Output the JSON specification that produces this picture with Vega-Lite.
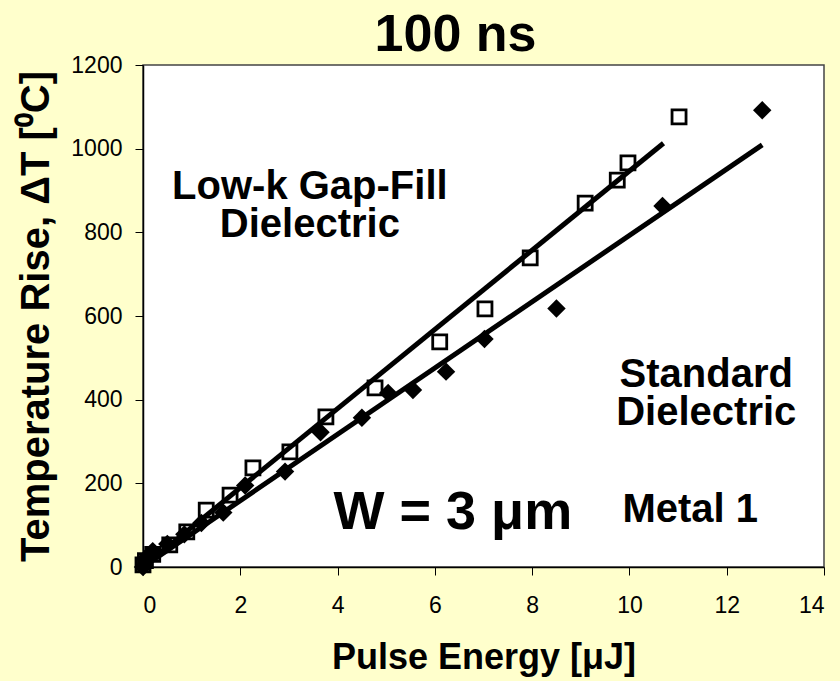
{
  "$schema": "https://vega.github.io/schema/vega-lite/v6.json",
  "width": 681,
  "height": 502,
  "autosize": {"type": "none"},
  "padding": {"left": 143, "top": 65, "right": 16, "bottom": 114},
  "background": "#FFFFCC",
  "config": {
    "view": {"fill": "white", "stroke": "#444444", "strokeWidth": 1.5},
    "font": "Liberation Sans"
  },
  "title": {
    "text": "100 ns",
    "fontSize": 52,
    "font": "Liberation Sans",
    "fontWeight": "bold",
    "color": "black",
    "anchor": "middle",
    "frame": "group",
    "dx": -28,
    "dy": 53,
    "offset": 4,
    "baseline": "alphabetic"
  },
  "datasets": {
    "points": [
      {"series": "Low-k", "energy": 0.0, "dT": 5},
      {"series": "Low-k", "energy": 0.05, "dT": 15},
      {"series": "Low-k", "energy": 0.2, "dT": 30},
      {"series": "Low-k", "energy": 0.55, "dT": 53},
      {"series": "Low-k", "energy": 0.9, "dT": 84},
      {"series": "Low-k", "energy": 1.3, "dT": 136},
      {"series": "Low-k", "energy": 1.79, "dT": 172},
      {"series": "Low-k", "energy": 2.26, "dT": 237},
      {"series": "Low-k", "energy": 3.02, "dT": 275},
      {"series": "Low-k", "energy": 3.76, "dT": 359},
      {"series": "Low-k", "energy": 4.77, "dT": 428},
      {"series": "Low-k", "energy": 6.1, "dT": 538},
      {"series": "Low-k", "energy": 7.03, "dT": 617},
      {"series": "Low-k", "energy": 7.96, "dT": 739},
      {"series": "Low-k", "energy": 9.09, "dT": 870},
      {"series": "Low-k", "energy": 9.75, "dT": 925},
      {"series": "Low-k", "energy": 9.97, "dT": 966},
      {"series": "Low-k", "energy": 11.02, "dT": 1076},
      {"series": "Standard", "energy": 0.0, "dT": 0},
      {"series": "Standard", "energy": 0.05, "dT": 20},
      {"series": "Standard", "energy": 0.2, "dT": 38},
      {"series": "Standard", "energy": 0.5, "dT": 55},
      {"series": "Standard", "energy": 0.85, "dT": 78},
      {"series": "Standard", "energy": 1.2, "dT": 105},
      {"series": "Standard", "energy": 1.65, "dT": 130},
      {"series": "Standard", "energy": 2.1, "dT": 195},
      {"series": "Standard", "energy": 2.92, "dT": 228},
      {"series": "Standard", "energy": 3.65, "dT": 322},
      {"series": "Standard", "energy": 4.5, "dT": 357},
      {"series": "Standard", "energy": 5.04, "dT": 416},
      {"series": "Standard", "energy": 5.55, "dT": 423},
      {"series": "Standard", "energy": 6.23, "dT": 467},
      {"series": "Standard", "energy": 7.02, "dT": 545},
      {"series": "Standard", "energy": 8.5, "dT": 618},
      {"series": "Standard", "energy": 10.68, "dT": 863},
      {"series": "Standard", "energy": 12.73, "dT": 1092}
    ],
    "fits": [
      {"series": "Low-k", "energy": 0, "dT": 0},
      {"series": "Low-k", "energy": 10.7, "dT": 1013},
      {"series": "Standard", "energy": 0, "dT": 0},
      {"series": "Standard", "energy": 12.73, "dT": 1009}
    ],
    "labels": [
      {"kind": "note", "energy": 3.43, "dT": 908, "text": "Low-k Gap-Fill\nDielectric"},
      {"kind": "note", "energy": 11.58, "dT": 459, "text": "Standard\nDielectric"},
      {"kind": "note", "energy": 11.25, "dT": 136, "text": "Metal 1"},
      {"kind": "big", "energy": 6.37, "dT": 129, "text": "W = 3 μm"}
    ]
  },
  "encoding": {
    "x": {
      "field": "energy",
      "type": "quantitative",
      "scale": {"domain": [0, 14], "nice": false, "zero": false},
      "axis": {
        "title": "Pulse Energy [μJ]",
        "values": [0, 2, 4, 6, 8, 10, 12, 14],
        "format": "d",
        "grid": false,
        "domainColor": "black",
        "domainWidth": 1.5,
        "tickColor": "black",
        "tickSize": 8,
        "labelFontSize": 23,
        "labelColor": "black",
        "labelFont": "Liberation Sans",
        "labelPadding": 19,
        "titleFontSize": 36,
        "titleFontWeight": "bold",
        "titleFont": "Liberation Sans",
        "titleColor": "black",
        "titlePadding": 23
      }
    },
    "y": {
      "field": "dT",
      "type": "quantitative",
      "scale": {"domain": [0, 1200], "nice": false, "zero": false},
      "axis": {
        "title": "Temperature Rise, ΔT [⁰C]",
        "values": [0, 200, 400, 600, 800, 1000, 1200],
        "format": "d",
        "grid": false,
        "domainColor": "black",
        "domainWidth": 1.5,
        "tickColor": "black",
        "tickSize": 8,
        "labelFontSize": 23,
        "labelColor": "black",
        "labelFont": "Liberation Sans",
        "labelPadding": 13,
        "titleFontSize": 40,
        "titleFontWeight": "bold",
        "titleFont": "Liberation Sans",
        "titleColor": "black",
        "titlePadding": 14
      }
    }
  },
  "layer": [
    {
      "data": {"name": "fits"},
      "mark": {"type": "line", "color": "black", "strokeWidth": 5, "clip": true},
      "encoding": {"detail": {"field": "series"}}
    },
    {
      "data": {"name": "points"},
      "transform": [{"filter": "datum.series === 'Low-k'"}],
      "mark": {"type": "point", "shape": "square", "size": 196, "filled": false, "stroke": "black", "strokeWidth": 2.8, "opacity": 1}
    },
    {
      "data": {"name": "points"},
      "transform": [{"filter": "datum.series === 'Standard'"}],
      "mark": {"type": "point", "shape": "diamond", "size": 340, "filled": true, "fill": "black", "opacity": 1}
    },
    {
      "data": {"name": "labels"},
      "transform": [{"filter": "datum.kind === 'note'"}],
      "mark": {"type": "text", "fontSize": 40, "fontWeight": "bold", "font": "Liberation Sans", "color": "black", "align": "center", "baseline": "middle", "lineBreak": "\n", "lineHeight": 38},
      "encoding": {"text": {"field": "text"}}
    },
    {
      "data": {"name": "labels"},
      "transform": [{"filter": "datum.kind === 'big'"}],
      "mark": {"type": "text", "fontSize": 54, "fontWeight": "bold", "font": "Liberation Sans", "color": "black", "align": "center", "baseline": "middle"},
      "encoding": {"text": {"field": "text"}}
    }
  ]
}
